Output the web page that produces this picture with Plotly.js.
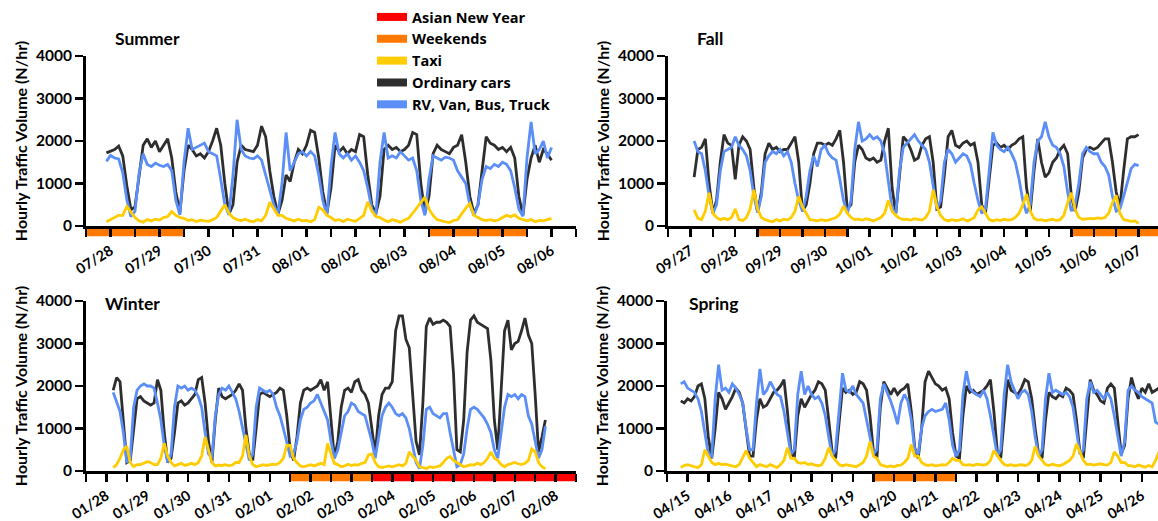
<!DOCTYPE html>
<html><head><meta charset="utf-8">
<script src="https://cdn.plot.ly/plotly-3.0.1.min.js"></script>
<style>html,body{margin:0;padding:0;background:#fff}#chart{width:1158px;height:521px}</style>
</head><body><div id="chart"></div>
<script>
// ---------- DATA (hourly traffic volume, N/hr, read every 2 h) ----------
const STEP_H = 2;

// Summer: 07/28 - 08/06, first sample at hour 10 of 07/28
const summerDays = ['07/28','07/29','07/30','07/31','08/01','08/02','08/03','08/04','08/05','08/06'];
const summerStartHour = 10;
const summerCars = [
1720,1760,1800,1880,1650,950,380,
450,1200,1900,2050,1850,2000,1750,1900,2050,1600,800,320,
1300,1900,1800,1650,1700,1600,1750,2000,2300,1900,1000,280,
500,1500,1900,1800,1780,1750,1900,2350,2100,1300,700,280,
600,1200,1050,1500,1800,1700,1900,2250,2200,1600,800,300,
900,1900,1750,1850,1700,1800,1750,2150,2100,1200,500,300,
700,1800,1900,1800,1850,1750,1800,1900,2200,2150,1000,300,
700,1700,1900,1800,1750,1700,1850,1900,2150,1500,700,300,
500,1300,2100,1950,1900,1800,1850,1750,1850,1600,700,250,
1100,1600,1900,1500,1800,1700,1550];
const summerVans = [
1520,1660,1600,1580,1250,620,220,
350,1250,1700,1450,1400,1480,1430,1400,1450,1300,600,260,
1500,2300,1800,1850,1900,1950,1750,1700,1650,1100,500,260,
1200,2500,1800,1650,1600,1580,1650,1550,1200,900,500,280,
1000,2200,1300,1500,1700,1750,1650,1750,1650,1200,600,250,
1400,2200,1700,1600,1700,1550,1650,1500,1300,900,400,260,
1500,2200,1600,1650,1600,1750,1650,1550,1600,1300,600,250,
1100,1650,1600,1550,1620,1600,1550,1300,1150,1000,500,250,
500,1100,1400,1350,1450,1400,1500,1450,1300,900,400,230,
1600,2450,1700,1800,2000,1600,1850];
const summerTaxi = [
100,150,200,250,250,460,330,
200,120,90,150,120,160,140,200,220,340,250,200,
180,130,150,100,140,120,110,150,200,350,500,300,
200,150,130,160,120,100,150,120,250,560,400,250,
250,180,150,120,160,120,130,100,150,440,380,250,
200,130,150,100,160,130,110,180,250,570,350,220,
200,140,100,150,120,90,140,180,300,420,550,680,
400,250,150,120,100,80,130,150,300,420,530,250,
200,150,130,150,120,140,200,250,220,260,180,150,
120,150,100,130,120,150,180];
const summerWeekends = [[0,2],[7,9]];          // in days from 07/28
const summerNewYear = [];

// Fall: 09/27 - 10/07, first sample at hour 14 of 09/27
const fallDays = ['09/27','09/28','09/29','09/30','10/01','10/02','10/03','10/04','10/05','10/06','10/07'];
const fallStartHour = 14;
const fallCars = [
1150,1800,1850,2050,1000,300,
600,1500,2150,1950,1900,1100,1900,2100,2000,1800,900,320,
800,1700,1950,1800,1850,1750,1800,1800,1950,2100,1500,350,
500,1000,1700,1950,1950,1900,1950,1900,2050,2250,1500,400,
500,1500,1900,1800,1600,1550,1600,1500,1550,2000,2300,900,
300,1200,2100,2000,1800,1550,1600,1900,2050,2100,1500,400,
450,1200,2100,2250,1900,1850,1950,2000,1900,1950,1500,500,
300,1100,1900,1950,1850,1900,1800,1900,1950,2050,2100,900,
350,1300,2050,1500,1150,1250,1500,1600,1800,1900,1700,700,
350,800,1600,1800,1850,1800,1850,1950,2050,2050,1500,800,
450,1300,2050,2100,2100,2150];
const fallVans = [
2000,1750,1700,1300,700,300,
500,1300,1750,1800,1850,2100,1900,1800,1650,1300,700,320,
700,1500,1650,1750,1700,1800,1650,1750,1500,1000,600,350,
700,1300,1650,1400,1800,1900,1700,1600,1550,1100,600,300,
600,1800,2450,2000,2050,2150,2050,2100,2000,1700,1000,400,
300,1300,1850,1950,2050,2150,2000,1900,1800,1500,900,400,
600,1500,1800,1700,1500,1600,1700,1650,1450,1000,600,300,
400,1300,2200,1900,1800,1750,1850,1700,1500,1100,600,300,
500,1500,2000,2100,2450,2100,1900,1850,1700,1400,800,350,
500,1000,1700,1850,1750,1700,1700,1500,1400,1200,700,350,
400,700,1000,1350,1450,1420];
const fallTaxi = [
380,180,150,350,780,300,
200,150,180,150,200,400,150,130,200,400,850,400,
200,150,120,100,150,120,160,140,200,350,700,450,
300,150,140,120,150,130,140,170,200,280,470,300,
200,150,160,140,170,150,120,160,200,300,600,350,
250,180,150,160,140,170,150,140,200,350,850,450,
250,150,120,150,130,140,170,120,150,200,380,450,
300,150,120,150,130,160,140,150,200,300,500,750,
350,180,140,150,120,140,160,130,150,250,550,780,
400,200,160,170,180,170,190,180,200,300,550,720,
300,150,130,110,120,60];
const fallWeekends = [[2,4],[9,11]];           // in days from 09/27
const fallNewYear = [];

// Winter: 01/28 - 02/08, first sample at hour 16 of 01/28
const winterDays = ['01/28','01/29','01/30','01/31','02/01','02/02','02/03','02/04','02/05','02/06','02/07','02/08'];
const winterStartHour = 16;
const winterCars = [
1900,2200,2100,1100,200,
250,1000,1700,1750,1650,1600,1550,1600,2150,1900,900,200,
300,900,1600,1650,1550,1600,1700,1800,2150,2200,1600,700,
200,1200,1950,1750,1700,1750,1800,1900,2050,1900,1000,400,
250,1000,1800,1850,1800,1750,1800,1850,1950,1900,1300,500,
250,800,1600,1900,1950,1900,1950,2000,2150,1900,2100,1200,
300,700,1500,1900,1950,1850,2100,2150,1900,1800,1600,1000,
400,1300,1800,1950,1950,2100,3300,3650,3650,3100,2900,1800,
700,380,1600,3400,3600,3450,3500,3500,3550,3500,3400,2300,
500,450,1200,2800,3550,3650,3500,3450,3400,3350,2600,1200,
500,1800,3300,3550,2850,3000,3050,3300,3600,3200,3000,1800,
450,800,1200];
const winterVans = [
1850,1600,1400,900,200,
300,1500,1900,2000,2050,2000,2000,1950,1600,1200,600,200,
400,1500,2000,1950,2000,1900,1950,1900,1750,1500,900,400,
300,1300,1800,1950,1900,2000,1850,1700,1400,1000,600,250,
400,1500,1950,1900,1850,1900,1800,1500,1300,1000,700,350,
400,700,1200,1450,1500,1600,1650,1800,1600,1400,1200,700,
300,500,900,1300,1400,1600,1550,1400,1350,1300,1000,700,
300,800,1300,1500,1600,1500,1350,1300,1350,1250,1000,600,
200,60,600,1450,1500,1350,1300,1250,1350,1350,900,450,
100,150,400,1000,1450,1500,1450,1350,1250,1100,900,500,
300,900,1500,1800,1750,1800,1700,1800,1750,1300,1100,700,
300,500,1050];
const winterTaxi = [
80,150,300,500,580,
200,100,150,150,180,220,200,150,150,300,650,350,
200,120,150,180,130,150,180,150,200,350,800,500,
200,120,140,130,150,120,140,200,200,350,850,350,
150,100,120,150,130,140,160,150,200,300,600,600,
300,200,120,100,130,150,120,150,180,150,650,400,
180,150,100,120,160,130,150,140,180,200,380,400,
200,100,80,100,120,100,130,150,120,180,450,350,
250,100,80,60,100,80,100,120,200,300,340,250,
200,150,100,120,150,140,180,150,200,300,450,300,
250,150,100,150,180,200,170,150,180,250,520,450,
200,100,50];
const winterWeekends = [[5,7]];                // in days from 01/28
const winterNewYear = [[7,12]];

// Spring: 04/15 - 04/26, first sample at hour 8 of 04/15
const springDays = ['04/15','04/16','04/17','04/18','04/19','04/20','04/21','04/22','04/23','04/24','04/25','04/26'];
const springStartHour = 8;
const springCars = [
1650,1600,1700,1650,1750,2000,2050,1700,800,
300,1000,1850,1700,1450,1600,1750,1950,1850,1600,1000,350,
350,1200,1700,1500,1550,1700,1850,1900,2000,2150,1400,450,
300,1300,1700,1500,1650,1800,1900,2100,2050,1900,1200,450,
300,1200,1950,1850,1900,1800,1850,2100,2050,1900,1300,450,
300,1500,2100,1950,1800,1950,1800,1900,1950,2050,1400,550,
300,1000,2100,2350,2200,2050,2000,1900,1950,1700,900,350,
300,1300,2000,1850,1900,1800,1850,1900,2000,2150,1400,450,
300,1300,2150,1900,1850,1800,1950,2150,2100,1700,1000,400,
300,1200,1850,1750,1700,1800,1750,1950,1900,1800,1200,450,
300,1300,2150,1900,1800,1650,1600,1950,2050,1950,1200,400,
600,1700,2200,1900,1700,1950,1850,2050,1850,1900,1950];
const springVans = [
2050,2100,1950,1900,1850,1700,1400,900,400,
350,1700,2500,1900,1950,1850,2050,1950,1800,1600,1000,500,
500,1600,2400,1800,1900,2100,1950,1800,1750,1400,900,400,
500,1800,2350,1800,2000,1800,1700,1750,1600,1300,800,350,
500,1500,2300,1900,1850,2000,1800,1700,1600,1200,800,400,
500,1700,2050,1850,1650,1400,1100,1600,1800,1650,1200,500,
400,1000,1300,1400,1450,1400,1420,1450,1600,1200,600,350,
500,1800,2350,1950,1850,1800,1750,1900,1700,1300,800,350,
500,1800,2500,2100,1900,1700,1850,1900,1800,1400,800,350,
500,1700,2300,1850,1900,1850,1800,1850,1750,1500,900,400,
500,1700,2100,1850,1900,1800,1700,1850,1700,1300,800,350,
700,1900,2000,1900,1850,1750,1700,1650,1600,1150,1100];
const springTaxi = [
80,130,150,120,100,80,150,500,350,
200,150,180,150,160,140,120,100,150,300,480,300,
200,100,150,130,100,150,120,80,150,250,550,300,
300,200,180,200,150,170,140,120,150,300,550,350,
250,150,120,150,130,110,100,150,200,350,690,350,
300,150,130,100,120,100,130,140,200,300,620,350,
350,200,150,130,150,120,130,150,140,200,300,250,
250,150,140,150,130,160,150,140,160,250,480,350,
250,150,130,150,120,140,150,130,150,250,580,350,
250,150,130,160,140,120,150,200,250,350,640,450,
250,150,160,140,150,170,150,140,200,450,350,200,
200,130,120,100,140,110,90,130,100,250,450];
const springWeekends = [[5,7]];                // in days from 04/15
const springNewYear = [];

// ---------- STYLE ----------
const FONT = 'Lato, "Open Sans", sans-serif';
const LEGEND_FONT = '"Open Sans", Lato, sans-serif';
const C_CARS = '#2e2e2e', C_VANS = '#5b8ef6', C_TAXI = '#ffcc00', C_WKND = '#ff7800', C_ANY = '#ff0000';
const W = 1158, H = 521;

const panels = [
  {name:'Summer', x:'x',  y:'y',  days:summerDays, start:summerStartHour, cars:summerCars, vans:summerVans, taxi:summerTaxi, wk:summerWeekends, ny:summerNewYear,
   px:[86,576], py:[56,226], range:[0,240], title:[113,38]},
  {name:'Fall',   x:'x2', y:'y2', days:fallDays, start:fallStartHour, cars:fallCars, vans:fallVans, taxi:fallTaxi, wk:fallWeekends, ny:fallNewYear,
   px:[668,1158], py:[56,226], range:[0,262.4], title:[695,38]},
  {name:'Winter', x:'x3', y:'y3', days:winterDays, start:winterStartHour, cars:winterCars, vans:winterVans, taxi:winterTaxi, wk:winterWeekends, ny:winterNewYear,
   px:[86,576], py:[301,471], range:[0,288], title:[103,303]},
  {name:'Spring', x:'x4', y:'y4', days:springDays, start:springStartHour, cars:springCars, vans:springVans, taxi:springTaxi, wk:springWeekends, ny:springNewYear,
   px:[667,1158], py:[301,471], range:[0,285.4], title:[687,303]}
];

const hoursFor = (start, n) => Array.from({length:n}, (_, i) => start + i * STEP_H);

const traces = [];
// legend-only entries (first, in legend order)
[['Asian New Year', C_ANY], ['Weekends', C_WKND], ['Taxi', C_TAXI], ['Ordinary cars', C_CARS], ['RV, Van, Bus, Truck', C_VANS]]
  .forEach(([n, c]) => traces.push({type:'scatter', mode:'lines', name:n, x:[null], y:[null], xaxis:'x', yaxis:'y',
     line:{color:c, width:8}, showlegend:true, hoverinfo:'skip'}));

const layout = {
  width:W, height:H, margin:{l:0, r:0, t:0, b:0}, paper_bgcolor:'#fff', plot_bgcolor:'rgba(0,0,0,0)',
  showlegend:true,
  legend:{x:372/W, y:1-1/H, xanchor:'left', yanchor:'top', bgcolor:'rgba(0,0,0,0)',
          font:{family:LEGEND_FONT, size:14.5, weight:'bold', color:'#000'}, tracegroupgap:0},
  font:{family:FONT, color:'#000'},
  shapes:[], annotations:[]
};

panels.forEach(p => {
  const hx = hoursFor(p.start, p.cars.length);
  const common = {type:'scatter', mode:'lines', xaxis:p.x, yaxis:p.y, showlegend:false, hoverinfo:'skip'};
  traces.push(Object.assign({}, common, {name:'Ordinary cars', x:hx, y:p.cars, line:{color:C_CARS, width:2.8}}));
  traces.push(Object.assign({}, common, {name:'RV, Van, Bus, Truck', x:hoursFor(p.start, p.vans.length), y:p.vans, line:{color:C_VANS, width:2.8}}));
  traces.push(Object.assign({}, common, {name:'Taxi', x:hoursFor(p.start, p.taxi.length), y:p.taxi, line:{color:C_TAXI, width:2.8}}));

  const tickvals = [], ticktext = [];
  for (let h = 0; h <= p.range[1] + 1e-6; h += 12) {
    tickvals.push(h);
    const k = (h - 12) / 24;
    ticktext.push(Number.isInteger(k) && p.days[k] ? p.days[k] : '');
  }
  const xk = p.x === 'x' ? 'xaxis' : 'xaxis' + p.x.slice(1);
  const yk = p.y === 'y' ? 'yaxis' : 'yaxis' + p.y.slice(1);
  layout[xk] = {domain:[p.px[0]/W, Math.min(1, p.px[1]/W)], range:p.range, anchor:p.y,
    tickmode:'array', tickvals, ticktext, ticks:'outside', ticklen:8, tickwidth:2.5, tickcolor:'#000',
    showline:true, linewidth:3, linecolor:'#000', showgrid:false, zeroline:false, tickangle:-32,
    tickfont:{family:FONT, size:14.5, weight:'bold', color:'#000'}, fixedrange:true};
  layout[yk] = {domain:[1-p.py[1]/H, 1-p.py[0]/H], range:[0,4000], anchor:p.x,
    tickmode:'array', tickvals:[0,1000,2000,3000,4000], ticks:'outside', ticklen:8, tickwidth:2.5, tickcolor:'#000',
    showline:true, linewidth:3, linecolor:'#000', showgrid:false, zeroline:false,
    tickfont:{family:FONT, size:15.5, weight:'bold', color:'#000'}, fixedrange:true,
    title:{text:'Hourly Traffic Volume (N/hr)', font:{family:FONT, size:16, weight:'bold', color:'#000'}, standoff:5}};

  const band = (list, color) => list.forEach(([a, b]) => layout.shapes.push({type:'rect', xref:p.x, yref:p.y + ' domain',
     x0:a*24, x1:b*24, y0:-0.06, y1:0, fillcolor:color, line:{width:0}, layer:'below'}));
  band(p.wk, C_WKND);
  band(p.ny, C_ANY);

  layout.annotations.push({text:p.name, xref:'paper', yref:'paper', x:p.title[0]/W, y:1-p.title[1]/H,
    xanchor:'left', yanchor:'middle', showarrow:false, font:{family:FONT, size:17.5, weight:'bold', color:'#000'}});
});

Plotly.newPlot('chart', traces, layout, {staticPlot:true, displayModeBar:false});
</script></body></html>
